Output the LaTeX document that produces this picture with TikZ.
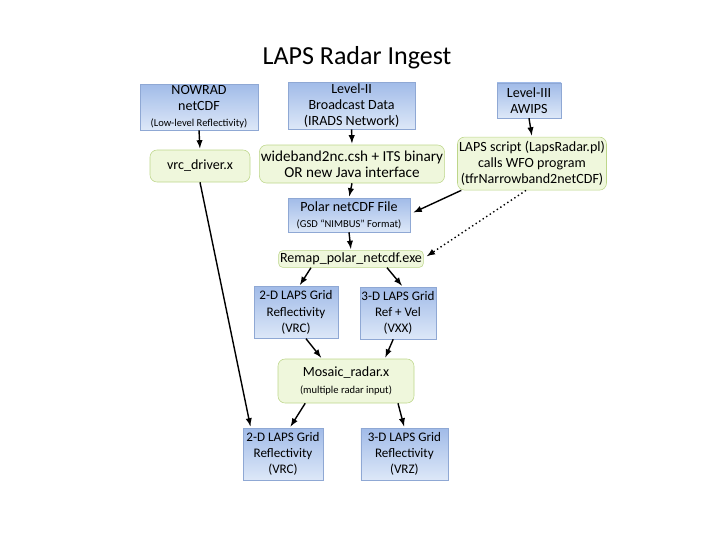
\documentclass[tikz,border=0pt]{standalone}
\usepackage{fontspec}
\setmainfont{Carlito}
\usepackage{xcolor}
\usepackage{tikz}
\usetikzlibrary{arrows,positioning,calc}

\definecolor{boxblueT}{HTML}{A1BBE8}
\definecolor{boxblueB}{HTML}{DDE8F8}
\definecolor{boxblueD}{HTML}{8FA8D4}
\definecolor{boxgreenT}{HTML}{E3F0C4}
\definecolor{boxgreenB}{HTML}{EFF7DC}
\definecolor{boxgreenD}{HTML}{BDD68A}

\newcommand{\smalltxt}{\fontsize{7.5}{9}\selectfont}
\newcommand{\gridtxt}{\fontsize{9.3}{11.5}\selectfont}

\begin{document}
\begin{tikzpicture}[
	bluebox/.style={draw=boxblueD,top color=boxblueT,bottom color=boxblueB,align=center,font=\fontsize{10}{11.5}\selectfont,inner sep=1pt},
	greenbox/.style={draw=boxgreenD,fill=boxgreenB,rounded corners=5pt,align=center,font=\fontsize{10}{11.5}\selectfont,inner sep=1pt},
	arr/.style={-latex,line width=1pt,shorten >=1pt}]
	\useasboundingbox (0,0) rectangle (18,-13.5);
		\node (title) at (8.925,-1.45) {\fontsize{18.5}{20}\selectfont LAPS Radar Ingest};
		% inputs
		\node[bluebox,minimum width=2.95cm,minimum height=1.1cm] (nowrad) at (4.975,-2.675) {NOWRAD\\netCDF\\{\smalltxt(Low-level Reflectivity)}};
		\node[bluebox,minimum width=3.175cm,minimum height=1.125cm] (level2) at (8.79,-2.64) {Level-II\\Broadcast Data\\(IRADS Network)};
		\node[bluebox,minimum width=1.6cm,minimum height=0.875cm] (level3) at (13.225,-2.51) {Level-III\\AWIPS};
		% processing
		\node[greenbox,minimum width=2.5cm,minimum height=0.8cm] (vrcdriver) at (5.0,-4.15) {vrc\_driver.x};
		\node[greenbox,minimum width=4.5cm,minimum height=0.95cm,font=\fontsize{10.8}{11.5}\selectfont] (wideband) at (8.8,-4.1) {wideband2nc.csh + ITS binary\\OR new Java interface};
		\node[greenbox,minimum width=3.725cm,minimum height=1.325cm] (lapsscript) at (13.3,-4.09) {LAPS script (LapsRadar.pl)\\calls WFO program\\(tfrNarrowband2netCDF)};
		\node[bluebox,minimum width=3.05cm,minimum height=0.85cm] (polar) at (8.725,-5.375) {Polar netCDF File\\{\smalltxt(GSD ``NIMBUS'' Format)}};
		\node[greenbox,rounded corners=3pt,minimum width=3.6cm,minimum height=0.42cm] (remap) at (8.775,-6.475) {Remap\_polar\_netcdf.exe};
		\node[bluebox,minimum width=2.1cm,minimum height=1.3cm,font=\gridtxt] (gridvrc) at (7.4,-7.81) {2-D LAPS Grid\\Reflectivity\\(VRC)};
		\node[bluebox,minimum width=1.85cm,minimum height=1.3cm,font=\gridtxt] (gridvxx) at (9.95,-7.825) {3-D LAPS Grid\\Ref + Vel\\(VXX)};
		\node[greenbox,minimum width=3.4cm,minimum height=1.1cm] (mosaic) at (8.65,-9.525) {Mosaic\_radar.x\\{\smalltxt(multiple radar input)}};
		% outputs
		\node[bluebox,minimum width=2.0cm,minimum height=1.3cm,font=\gridtxt] (outvrc) at (7.075,-11.35) {2-D LAPS Grid\\Reflectivity\\(VRC)};
		\node[bluebox,minimum width=2.175cm,minimum height=1.3cm,font=\gridtxt] (outvrz) at (10.11,-11.35) {3-D LAPS Grid\\Reflectivity\\(VRZ)};
		% connectors
		\draw[arr] (nowrad.south) -- (vrcdriver.north);
		\draw[arr] (vrcdriver.south) -- ([xshift=0.2cm]outvrc.north west);
		\draw[arr] (level2.south) -- (wideband.north);
		\draw[arr] (wideband.south) -- (polar.north);
		\draw[arr] (level3.south) -- (lapsscript.north);
		\draw[arr] ([xshift=0.1cm]lapsscript.south west) -- ([xshift=0.05cm,yshift=0.05cm]polar.east);
		\draw[arr,dotted] ([xshift=-0.15cm]lapsscript.south) -- ([xshift=0.05cm,yshift=0.05cm]remap.east);
		\draw[arr] (polar.south) -- (remap.north);
		\draw[arr] ([xshift=-1cm]remap.south) -- ([xshift=0.08cm]gridvrc.north);
		\draw[arr] ([xshift=0.9cm]remap.south) -- ([xshift=0.12cm]gridvxx.north);
		\draw[arr] ([xshift=0.25cm]gridvrc.south) -- ([xshift=-0.6cm]mosaic.north);
		\draw[arr] ([xshift=-0.12cm]gridvxx.south) -- ([xshift=0.97cm]mosaic.north);
		\draw[arr] ([xshift=-1.02cm]mosaic.south) -- ([xshift=0.17cm]outvrc.north);
		\draw[arr] ([xshift=1.3cm]mosaic.south) -- (outvrz.north);
	\end{tikzpicture}
\end{document}
